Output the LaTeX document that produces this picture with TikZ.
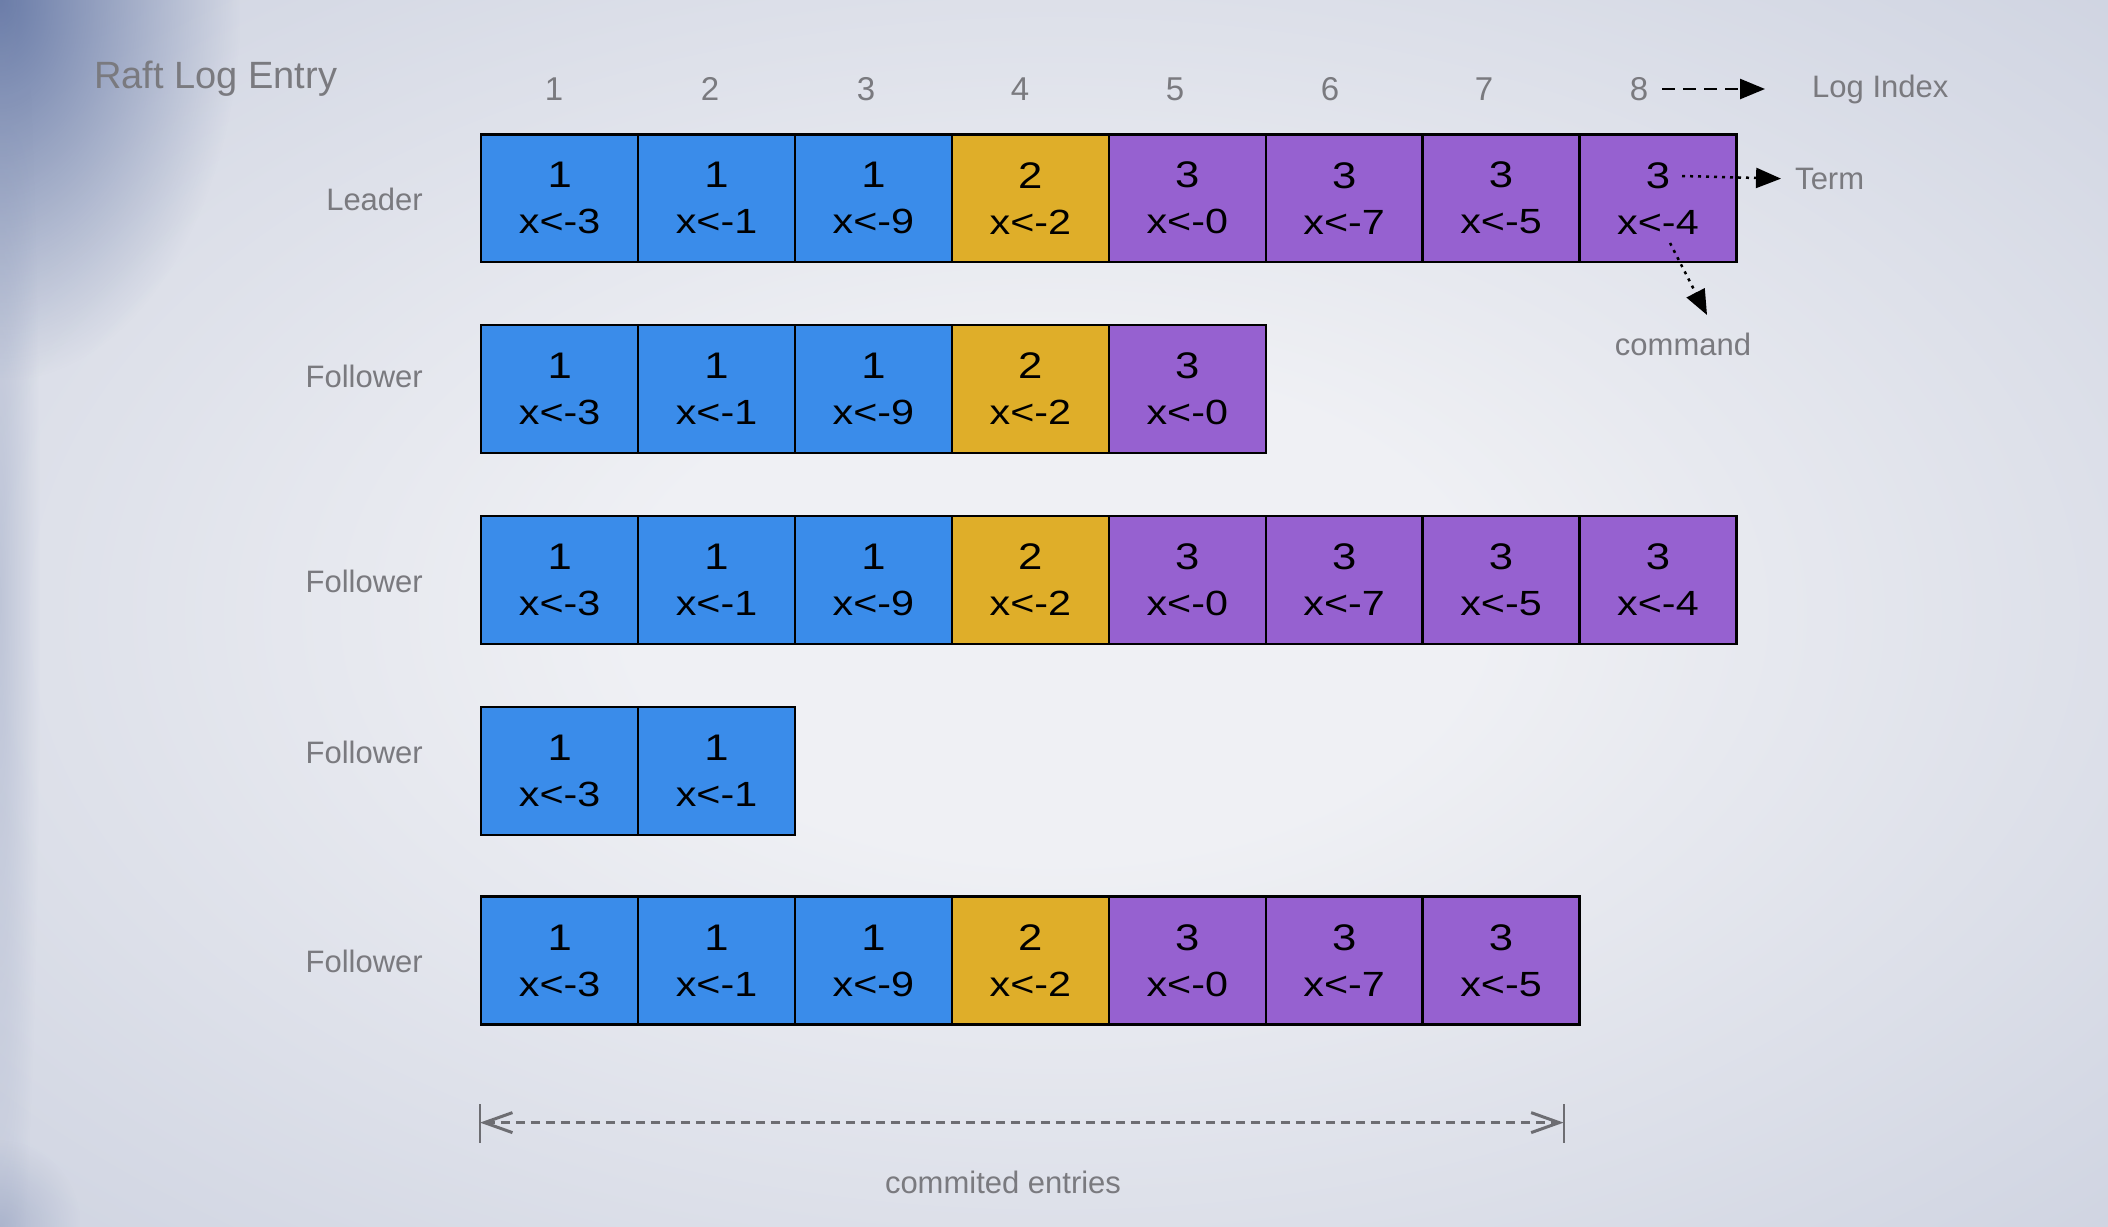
\documentclass[tikz,border=0pt]{standalone}
\usepackage{fontspec}
\setmainfont{Liberation Sans}
\newfontfamily\cellfont{Liberation Sans}[FakeStretch=1.18]
\usetikzlibrary{arrows.meta,fadings}
\definecolor{bgin}{HTML}{EFF0F4}
\definecolor{bgout}{HTML}{C3C9DA}
\definecolor{cornerc}{HTML}{6A7CA8}
\definecolor{cblue}{HTML}{3A8CEA}
\definecolor{cgold}{HTML}{DFAE29}
\definecolor{cpurple}{HTML}{9661D0}
\definecolor{labgray}{HTML}{7A7A7F}
\definecolor{arrgray}{HTML}{6D6D72}
\pgfdeclareradialshading{bgrad}{\pgfpoint{0bp}{0bp}}{color(0bp)=(bgin);color(10bp)=(bgin);color(46bp)=(bgout);color(72bp)=(bgout)}
\tikzfading[name=cornerfade, inner color=transparent!0, outer color=transparent!100]
\begin{document}
\begin{tikzpicture}[x=1pt,y=-1pt,
  cellbox/.style={draw=black, line width=2.4pt, minimum width=156.9pt, minimum height=127.7pt,
    inner sep=0pt, anchor=north west, align=center, font=\cellfont\fontsize{35}{46}\selectfont},
  cb/.style={cellbox, fill=cblue},
  cg/.style={cellbox, fill=cgold},
  cp/.style={cellbox, fill=cpurple},
  lab/.style={text=labgray, font=\fontsize{31}{36}\selectfont, inner sep=0pt},
  idx/.style={text=labgray, font=\fontsize{33}{38}\selectfont, inner sep=0pt},
  tip/.style={-{Triangle[length=25pt,width=20pt]}, black, line width=2.5pt},
]
\useasboundingbox (0,0) rectangle (2108,1226);
% background
\shade[shading=bgrad] (0,0) rectangle (2108,1226);
\fill[cornerc, path fading=cornerfade] (-240,-380) rectangle (240,380);
\fill[cornerc!70!bgout, path fading=cornerfade, opacity=0.35] (-40,-200) rectangle (40,1400);
\fill[cornerc!60!bgout, path fading=cornerfade, opacity=0.5] (-80,1140) rectangle (80,1310);

% title
\node[lab, anchor=west, font=\fontsize{38}{44}\selectfont] (title) at (94,79) {Raft Log Entry};

% index numbers
\foreach \k/\xx in {1/554,2/710,3/866,4/1020,5/1175,6/1330,7/1484,8/1639}{
  \node[idx] (i\k) at (\xx,89) {\k};
}
\node[lab, anchor=west] (logidx) at (1812,89) {Log Index};

% row labels
\node[lab, anchor=east] (r0) at (423,199) {Leader};
\node[lab, anchor=east] (r1) at (423,376) {Follower};
\node[lab, anchor=east] (r2) at (423,581) {Follower};
\node[lab, anchor=east] (r3) at (423,752) {Follower};
\node[lab, anchor=east] (r4) at (423,961) {Follower};

% cells
\foreach \r/\n/\ty in {0/8/133.1, 1/5/324, 2/8/515, 3/2/705.8, 4/7/895.4}{
  \foreach \i/\t/\c/\s in {1/1/3/cb,2/1/1/cb,3/1/9/cb,4/2/2/cg,5/3/0/cp,6/3/7/cp,7/3/5/cp,8/3/4/cp}{
    \ifnum\i>\n\relax\else
      \node[\s] (c\r-\i) at ({480+(\i-1)*156.9},\ty) {{\fontsize{37}{46}\selectfont\t}\\x<-\c};
    \fi
  }
}

% annotations
\node[lab, anchor=west] (term) at (1795,179) {Term};
\node[lab] (command) at (1683,344) {command};
\coordinate (termstart) at (1682,176);
\coordinate (cmdstart) at (1670,243);
\coordinate (cmdtip) at (1707,315);

\draw[tip, dash pattern=on 13pt off 8pt, shorten <=14pt, shorten >=47pt] (i8.east) -- (logidx.west);
\draw[tip, dash pattern=on 3pt off 5pt, shorten >=14pt] (termstart) -- (term.west);
\draw[tip, dash pattern=on 3pt off 5pt] (cmdstart) -- (cmdtip);

% committed entries
\coordinate (ca) at (480,1122.6);
\coordinate (cbb) at (1563.6,1122.6);
\coordinate (ca1) at (480,1104);
\coordinate (ca2) at (480,1143);
\coordinate (cb1) at (1563.6,1104);
\coordinate (cb2) at (1563.6,1143);
\draw[arrgray, line width=2.2pt] (ca1) -- (ca2);
\draw[arrgray, line width=2.2pt] (cb1) -- (cb2);
\draw[arrgray, line width=3pt, dash pattern=on 9pt off 6pt,
  {Straight Barb[length=28pt,width=20pt]}-{Straight Barb[length=28pt,width=20pt]}] (ca) -- (cbb);
\node[lab] (committed) at (1003,1182) {commited entries};
\end{tikzpicture}
\end{document}
